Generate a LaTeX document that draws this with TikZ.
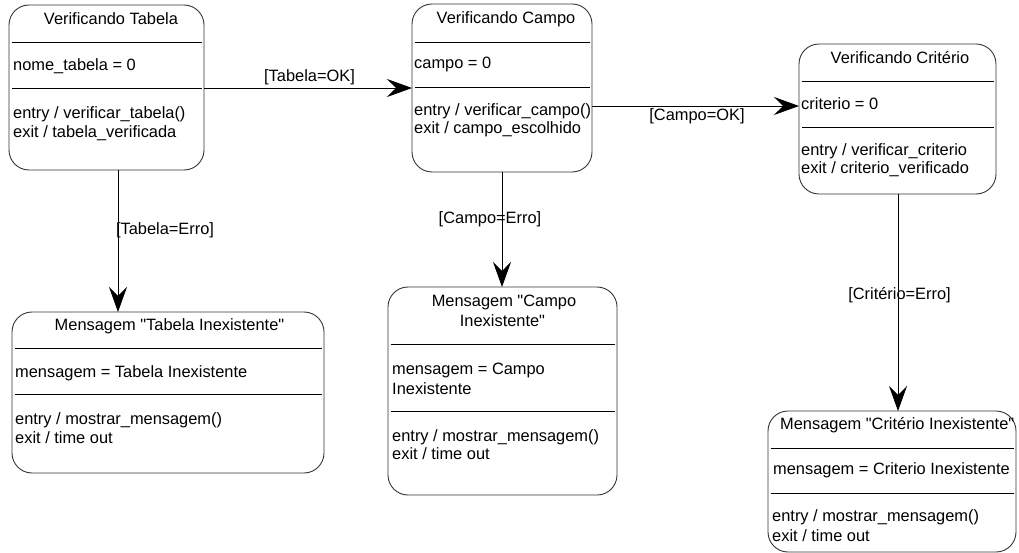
\documentclass[tikz,border=0pt]{standalone}
\usepackage{fontspec}
\setmainfont{Liberation Sans}[Ligatures=TeXOff]
\usetikzlibrary{arrows.meta}
\begin{document}
\begin{tikzpicture}[x=1pt,y=-1pt,
  font=\fontsize{16.4}{19}\selectfont,
  state/.style={draw=black!80, line width=0.9pt, rounded corners=20pt, inner sep=0pt, outer sep=0pt},
  sep/.style={draw=black, line width=0.9pt, shorten <=3pt, shorten >=2pt},
  txt/.style={anchor=base west, inner sep=0pt},
  ttl/.style={anchor=base, inner sep=0pt},
  lbl/.style={anchor=base, inner sep=0pt},
  flow/.style={draw=black, line width=0.9pt, -{Stealth[length=25pt, width=18pt, inset=9pt]}}]
\useasboundingbox (0,0) rectangle (1019,553);

% state boxes
\node[state, minimum width=195pt, minimum height=165pt] (tab) at (106.5,87.5) {};
\node[state, minimum width=180pt, minimum height=168pt] (cam) at (502,88) {};
\node[state, minimum width=197pt, minimum height=150pt] (cri) at (897.5,119) {};
\node[state, minimum width=312pt, minimum height=161pt] (tabmsg) at (168,392.5) {};
\node[state, minimum width=229pt, minimum height=208pt] (cammsg) at (502.5,391) {};
\node[state, minimum width=248pt, minimum height=141pt] (crimsg) at (892,481.5) {};

% compartment separators
\foreach \b/\ya/\yb in {tab/42/88, cam/42/87, cri/81/127, tabmsg/348/394, cammsg/344/411, crimsg/448/493}{
  \draw[sep] (\b.west |- 0,\ya) -- (\b.east |- 0,\ya);
  \draw[sep] (\b.west |- 0,\yb) -- (\b.east |- 0,\yb);
}

% Verificando Tabela
\node[ttl] (tabT) at (111,25) {Verificando Tabela};
\node[txt] (tabA) at (13,71) {nome\_tabela = 0};
\node[txt] (tabE) at (13,119) {entry / verificar\_tabela()};
\node[txt] (tabX) at (13,138) {exit / tabela\_verificada};

% Verificando Campo
\node[ttl] (camT) at (506,24) {Verificando Campo};
\node[txt] (camA) at (414,69) {campo = 0};
\node[txt] (camE) at (414,116) {entry / verificar\_campo()};
\node[txt] (camX) at (414,134) {exit / campo\_escolhido};

% Verificando Criterio
\node[ttl] (criT) at (900,64) {Verificando Critério};
\node[txt] (criA) at (801,110) {criterio = 0};
\node[txt] (criE) at (801,156) {entry / verificar\_criterio};
\node[txt] (criX) at (801,174) {exit / criterio\_verificado};

% Mensagem Tabela
\node[ttl] (tmT) at (169.5,330) {Mensagem "Tabela Inexistente"};
\node[txt] (tmA) at (15,377) {mensagem = Tabela Inexistente};
\node[txt] (tmE) at (15,424) {entry / mostrar\_mensagem()};
\node[txt] (tmX) at (15,443) {exit / time out};

% Mensagem Campo
\node[ttl] (cmT1) at (504,306) {Mensagem "Campo};
\node[ttl] (cmT2) at (502.5,326) {Inexistente"};
\node[txt] (cmA1) at (392,374) {mensagem = Campo};
\node[txt] (cmA2) at (392,394) {Inexistente};
\node[txt] (cmE) at (392,441) {entry / mostrar\_mensagem()};
\node[txt] (cmX) at (392,459) {exit / time out};

% Mensagem Criterio
\node[txt] (rmT) at (780,429) {Mensagem "Critério Inexistente"};
\node[txt] (rmA) at (773,474) {mensagem = Criterio Inexistente};
\node[txt] (rmE) at (772,521) {entry / mostrar\_mensagem()};
\node[txt] (rmX) at (772,541) {exit / time out};

% transitions
\draw[flow] (tab.east |- 0,88) -- (cam.west |- 0,88);
\draw[flow] (cam.east |- 0,106) -- (cri.west |- 0,106);
\draw[flow] (tab.south -| 118,0) -- (tabmsg.north -| 118,0);
\draw[flow] (cam.south -| 502,0) -- (cammsg.north -| 502,0);
\draw[flow] (cri.south -| 898,0) -- (crimsg.north -| 898,0);

% guards
\node[lbl] (g1) at (309.5,82) {[Tabela=OK]};
\node[lbl] (g2) at (697,121) {[Campo=OK]};
\node[lbl] (g3) at (165,235) {[Tabela=Erro]};
\node[lbl] (g4) at (490,224) {[Campo=Erro]};
\node[lbl] (g5) at (899.5,299) {[Critério=Erro]};
\end{tikzpicture}
\end{document}
